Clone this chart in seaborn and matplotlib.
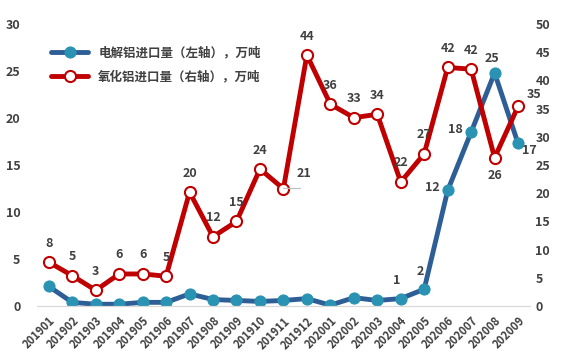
import pandas as pd
import matplotlib.pyplot as plt
import numpy as np
import seaborn as sns

# data
months = ['201901', '201902', '201903', '201904', '201905', '201906', '201907',
          '201908', '201909', '201910', '201911', '201912', '202001', '202002',
          '202003', '202004', '202005', '202006', '202007', '202008', '202009']
al_import = [2.1, 0.4, 0.2, 0.2, 0.4, 0.4, 1.3, 0.7, 0.6, 0.5, 0.6, 0.8, 0.1, 0.9,
             0.6, 0.8, 1.8, 12.3, 18.5, 24.8, 17.3]
alumina_import = [7.8, 5.4, 2.8, 5.7, 5.7, 5.3, 20.2, 12.3, 15.0, 24.3, 20.8, 44.5,
                  35.8, 33.4, 34.0, 22.0, 27.0, 42.3, 42.0, 26.3, 35.4]
alumina_text = ['8', '5', '3', '6', '6', '5', '20', '12', '15', '24', '21', '44',
                '36', '33', '34', '22', '27', '42', '42', '26', '35']
al_labels = {15: '1', 16: '2', 17: '12', 18: '18', 19: '25', 20: '17'}

blue_line = '#2E5E96'
blue_dot = '#2A93B3'
red_line = '#C00000'
txt = '#404040'

df = pd.DataFrame({'x': np.arange(len(months)), 'al': al_import, 'alumina': alumina_import})

sns.set_style('white')
plt.rcParams['font.family'] = ['Noto Sans CJK SC', 'DejaVu Sans']

fig = plt.figure(figsize=(5.88, 3.64), dpi=100)
ax = fig.add_axes([0.063, 0.159, 0.838, 0.775])
ax2 = ax.twinx()

sns.lineplot(data=df, x='x', y='al', ax=ax, color=blue_line, linewidth=3.5,
             marker='o', markersize=8, markerfacecolor=blue_dot,
             markeredgecolor=blue_dot, label='电解铝进口量（左轴），万吨', legend=False)
sns.lineplot(data=df, x='x', y='alumina', ax=ax2, color=red_line, linewidth=3.5,
             marker='o', markersize=8, markerfacecolor='white',
             markeredgecolor=red_line, markeredgewidth=1.5,
             label='氧化铝进口量（右轴），万吨', legend=False)

ax.set_ylim(0, 30)
ax2.set_ylim(0, 50)
ax.set_xlim(-0.5, len(months) - 0.5)
ax.set_yticks(range(0, 31, 5))
ax2.set_yticks(range(0, 51, 5))
ax.set_xticks(df['x'])
ax.set_xticklabels(months, rotation=45, ha='right', rotation_mode='anchor',
                   fontsize=8, color=txt, fontweight='bold')
ax.set_xticks(np.arange(-0.5, len(months), 1), minor=True)
ax.tick_params(axis='x', which='major', length=0, pad=6)
ax.tick_params(axis='x', which='minor', length=5, color='#D9D9D9', width=1)
ax.tick_params(axis='y', length=0, labelsize=9, labelcolor=txt, pad=12)
ax2.tick_params(axis='y', length=0, labelsize=9, labelcolor=txt, pad=4)
for a in (ax, ax2):
    for s in ['top', 'left', 'right']:
        a.spines[s].set_visible(False)
    a.spines['bottom'].set_color('#D9D9D9')
    a.set_xlabel('')
    a.set_ylabel('')
for lab in ax.get_yticklabels() + ax2.get_yticklabels():
    lab.set_fontweight('bold')

# value labels
lab_kw = dict(fontsize=9, color=txt, fontweight='bold')
for i, v in enumerate(alumina_import):
    t = alumina_text[i]
    if i == 10:
        ax2.plot([i, i + 0.7], [v + 0.2, v + 0.2], color='#BFBFBF', lw=0.8)
        ax2.annotate(t, (i + 0.55, v + 1.5), ha='left', va='bottom', **lab_kw)
    elif i == 19:
        ax2.annotate(t, (i, v), xytext=(0, -8), textcoords='offset points',
                     ha='center', va='top', **lab_kw)
    elif i == 20:
        ax2.annotate(t, (i, v), xytext=(6, 4), textcoords='offset points',
                     ha='left', va='bottom', **lab_kw)
    else:
        ax2.annotate(t, (i, v), xytext=(0, 9), textcoords='offset points',
                     ha='center', va='bottom', **lab_kw)
for i, t in al_labels.items():
    v = al_import[i]
    if i in (15, 16):
        off, ha, va = (-3, 8), 'center', 'bottom'
    elif i in (17, 18):
        off, ha, va = (-6, 2), 'right', 'center'
    elif i == 19:
        off, ha, va = (-2, 6), 'center', 'bottom'
    else:
        off, ha, va = (3, -5), 'left', 'center'
    ax.annotate(t, (i, v), xytext=off, textcoords='offset points', ha=ha, va=va, **lab_kw)

h1, l1 = ax.get_legend_handles_labels()
h2, l2 = ax2.get_legend_handles_labels()
leg = ax2.legend(h1 + h2, l1 + l2, loc='upper left', bbox_to_anchor=(0.005, 0.96),
                 frameon=False, fontsize=9, handlelength=3, labelspacing=0.9,
                 labelcolor=txt)
for t in leg.get_texts():
    t.set_fontweight('bold')

fig.savefig('out.png', dpi=100)
